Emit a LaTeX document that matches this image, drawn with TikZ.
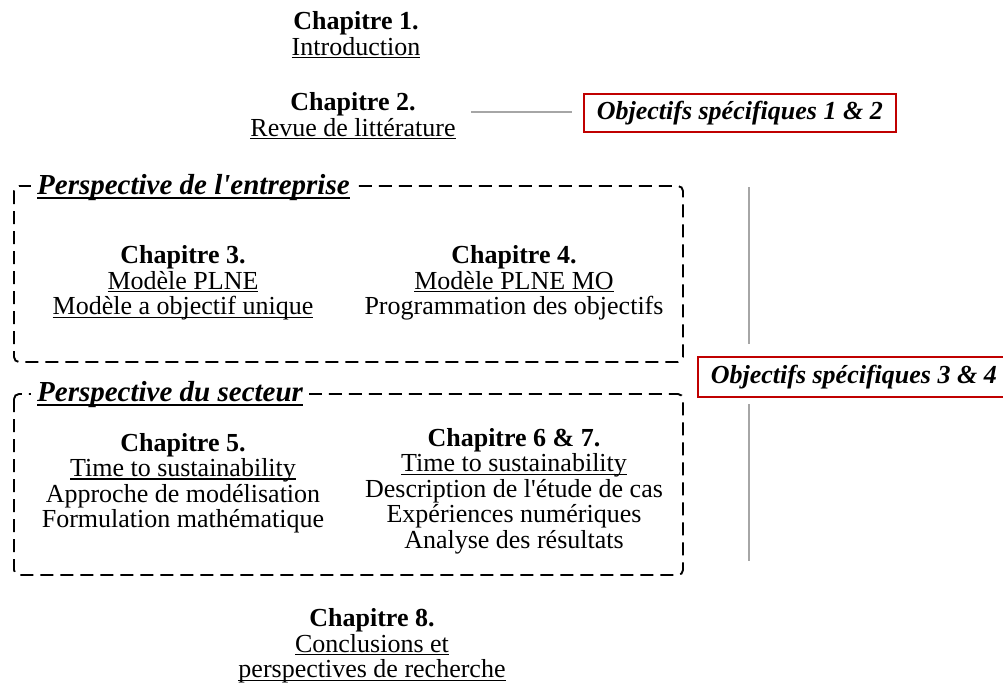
\documentclass[tikz,border=0pt]{standalone}
\usepackage{fontspec}
\setmainfont{Liberation Serif}
\definecolor{boxred}{HTML}{C00000}
\definecolor{linegray}{HTML}{A6A6A6}
\newcommand{\myul}[1]{\mbox{\setbox0\hbox{#1}\rlap{\rule[-3.2pt]{\wd0}{1.3pt}}\box0}}
\newcommand{\myulb}[1]{\mbox{\setbox0\hbox{#1}\rlap{\rule[-4pt]{\wd0}{2pt}}\box0}}
\tikzset{
  chap/.style={align=center, font=\fontsize{26}{25.5}\selectfont, inner sep=0pt},
  persp/.style={fill=white, font=\fontsize{29}{30}\selectfont\bfseries\itshape, inner xsep=6pt, inner ysep=2pt, anchor=west},
  dashbox/.style={draw=black, line width=1.9pt, dash pattern=on 13pt off 7pt, rounded corners=5pt},
  objbox/.style={draw=boxred, line width=1.6pt, font=\fontsize{26}{27}\selectfont\bfseries\itshape, minimum height=38pt, inner xsep=13pt},
  grayline/.style={draw=linegray, line width=1.5pt}
}
\begin{document}
\begin{tikzpicture}[x=1pt,y=-1pt]
\useasboundingbox (0,0) rectangle (1003,683);
% chapters 1,2
\node[chap] (c1) at (356,35) {\textbf{Chapitre 1.}\\\myul{Introduction}};
\node[chap] (c2) at (353,116) {\textbf{Chapitre 2.}\\\myul{Revue de littérature}};
\node[objbox, anchor=west] (o12) at (583,113) {Objectifs spécifiques 1 \& 2};
\coordinate (l12a) at (471,112);
\coordinate (l12b) at (572,112);
\draw[grayline] (l12a) -- (l12b);
% box 1
\draw[dashbox] (14,186) rectangle (683,362);
\node[persp] (p1) at (31,188) {\myulb{Perspective de l\textquotesingle entreprise}};
\node[chap] (c3) at (183,283) {\textbf{Chapitre 3.}\\\myul{Modèle PLNE}\\\myul{Modèle a objectif unique}};
\node[chap] (c4) at (514,283) {\textbf{Chapitre 4.}\\\myul{Modèle PLNE MO}\\Programmation des objectifs};
% box 2
\draw[dashbox] (14,394) rectangle (683,575);
\node[persp] (p2) at (31,395) {\myulb{Perspective du secteur}};
\node[chap] (c5) at (183,483) {\textbf{Chapitre 5.}\\\myul{Time to sustainability}\\Approche de modélisation\\Formulation mathématique};
\node[chap] (c6) at (514,491) {\textbf{Chapitre 6 \& 7.}\\\myul{Time to sustainability}\\Description de l\textquotesingle étude de cas\\Expériences numériques\\Analyse des résultats};
% objectives 3,4
\node[objbox, anchor=west, minimum height=40pt] (o34) at (697,377) {Objectifs spécifiques 3 \& 4};
\coordinate (v1a) at (749,187);
\coordinate (v1b) at (749,344);
\coordinate (v2a) at (749,404);
\coordinate (v2b) at (749,561);
\draw[grayline] (v1a) -- (v1b);
\draw[grayline] (v2a) -- (v2b);
% chapter 8
\node[chap] (c8) at (372,646) {\textbf{Chapitre 8.}\\\myul{Conclusions et}\\\myul{perspectives de recherche}};
\end{tikzpicture}
\end{document}
